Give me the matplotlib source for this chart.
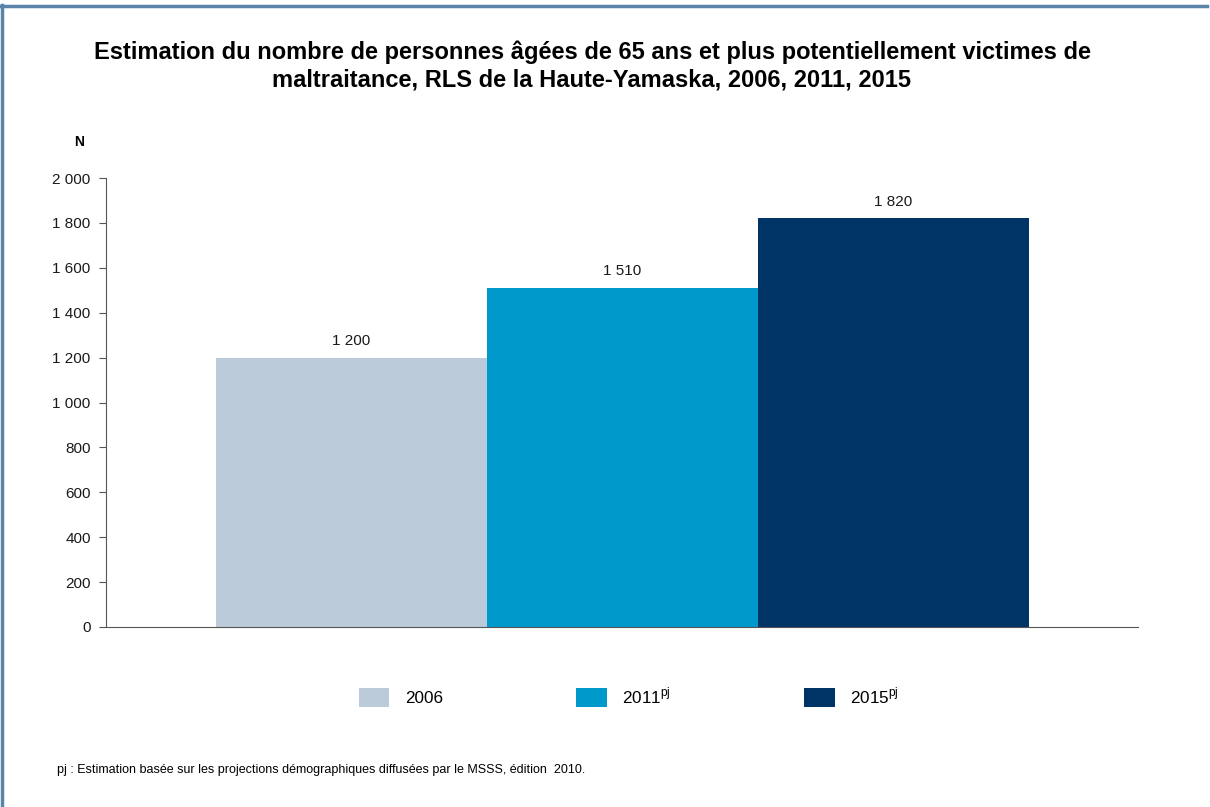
import numpy as np
import matplotlib.pyplot as plt
from matplotlib.patches import Patch
from matplotlib.lines import Line2D

years = ["2006", "2011$^{\\mathregular{pj}}$", "2015$^{\\mathregular{pj}}$"]
values = [1200, 1510, 1820]
value_labels = ["1 200", "1 510", "1 820"]
colors = ["#bccbd9", "#0099cc", "#003366"]
yticks = [0, 200, 400, 600, 800, 1000, 1200, 1400, 1600, 1800, 2000]
ytick_labels = ["0", "200", "400", "600", "800", "1 000", "1 200", "1 400", "1 600", "1 800", "2 000"]

plt.rcParams['font.family'] = ['Liberation Sans', 'DejaVu Sans']

W, H = 1210, 807
fig = plt.figure(figsize=(W / 100, H / 100), dpi=100)
ax = fig.add_axes([106 / W, 1 - 627 / H, (1138 - 106) / W, (627 - 178) / H])

x = np.arange(len(values))
ax.bar(x, values, width=1.0, color=colors, label=years)
for xi, v, lab in zip(x, values, value_labels):
    ax.annotate(lab, (xi, v), xytext=(0, 7), textcoords="offset points",
                ha="center", va="bottom", fontsize=11, color="#1a1a1a")

pad = (1138 - 106) / 271 / 2 - 1.5
ax.set_xlim(-0.5 - pad, 2.5 + pad)
ax.set_ylim(0, 2000)
ax.set_yticks(yticks)
ax.set_yticklabels(ytick_labels, fontsize=11, color="#1a1a1a")
ax.set_xticks([])
for s in ["top", "right"]:
    ax.spines[s].set_visible(False)
ax.spines["left"].set_color("#555555")
ax.spines["bottom"].set_color("#555555")
ax.tick_params(axis="y", length=5, color="#555555", pad=6)

fig.text(79 / W, 1 - 142 / H, "N", fontsize=10, fontweight="bold", ha="center", va="center")

fig.text(592 / W, 1 - 66 / H,
         "Estimation du nombre de personnes âgées de 65 ans et plus potentiellement victimes de\n"
         "maltraitance, RLS de la Haute-Yamaska, 2006, 2011, 2015",
         fontsize=17, fontweight="bold", ha="center", va="center", linespacing=1.2)

handles = [Patch(facecolor=c, edgecolor="none") for c in colors]
fig.legend(handles, years, loc="center", bbox_to_anchor=(629 / W, 1 - 696 / H), ncol=3,
           frameon=False, fontsize=12.3, handlelength=1.8, handleheight=1.3,
           handletextpad=0.9, columnspacing=7.8)

fig.text(57 / W, 1 - 770 / H,
         "pj : Estimation basée sur les projections démographiques diffusées par le MSSS, édition  2010.",
         fontsize=9, family=["Liberation Sans Narrow", "Liberation Sans"], ha="left", va="center")

# frame lines (top and left)
border = "#5a85a8"
fig.add_artist(Line2D([1.5 / W, 1.5 / W], [0, 1 - 5 / H], color=border, lw=2.5, transform=fig.transFigure))
fig.add_artist(Line2D([0, 1207 / W], [1 - 5.5 / H, 1 - 5.5 / H], color=border, lw=2.5, transform=fig.transFigure))

fig.savefig("out.png", dpi=100)
